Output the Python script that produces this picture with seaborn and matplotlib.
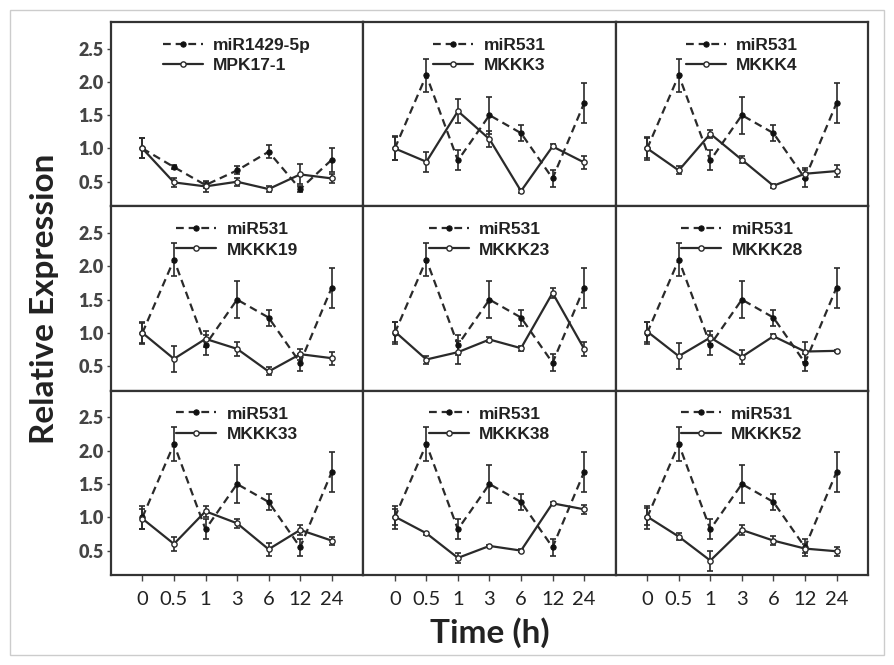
import numpy as np
import pandas as pd
import seaborn as sns
import matplotlib.pyplot as plt
from matplotlib.patches import Rectangle

# ---------------- data ----------------
times = ["0", "0.5", "1", "3", "6", "12", "24"]

mir1429_label = "miR1429-5p"
mir1429 = [1.00, 0.72, 0.45, 0.67, 0.95, 0.39, 0.83]
mir1429_err = [0.15, 0.03, 0.05, 0.06, 0.10, 0.05, 0.18]

mir531_label = "miR531"
mir531 = [1.00, 2.10, 0.82, 1.50, 1.23, 0.55, 1.68]
mir531_err = [0.17, 0.25, 0.15, 0.28, 0.12, 0.13, 0.30]

target_names = ["MPK17-1", "MKKK3", "MKKK4", "MKKK19", "MKKK23",
                "MKKK28", "MKKK33", "MKKK38", "MKKK52"]

mpk17_1 = [1.00, 0.49, 0.43, 0.50, 0.39, 0.61, 0.55]
mpk17_1_err = [0.15, 0.07, 0.08, 0.06, 0.05, 0.15, 0.07]
mkkk3 = [1.00, 0.80, 1.56, 1.14, 0.36, 1.03, 0.79]
mkkk3_err = [0.18, 0.15, 0.18, 0.12, 0.03, 0.03, 0.10]
mkkk4 = [1.00, 0.67, 1.22, 0.83, 0.44, 0.62, 0.66]
mkkk4_err = [0.15, 0.06, 0.06, 0.05, 0.03, 0.08, 0.09]
mkkk19 = [1.00, 0.61, 0.91, 0.76, 0.42, 0.68, 0.62]
mkkk19_err = [0.15, 0.20, 0.12, 0.10, 0.06, 0.08, 0.10]
mkkk23 = [1.02, 0.60, 0.71, 0.90, 0.77, 1.60, 0.76]
mkkk23_err = [0.15, 0.06, 0.17, 0.04, 0.04, 0.07, 0.10]
mkkk28 = [1.02, 0.65, 0.93, 0.64, 0.95, 0.72, 0.73]
mkkk28_err = [0.15, 0.20, 0.10, 0.10, 0.03, 0.15, 0.02]
mkkk33 = [0.98, 0.60, 1.09, 0.91, 0.52, 0.81, 0.65]
mkkk33_err = [0.15, 0.10, 0.08, 0.07, 0.10, 0.08, 0.06]
mkkk38 = [1.01, 0.76, 0.39, 0.57, 0.50, 1.21, 1.12]
mkkk38_err = [0.12, 0.02, 0.07, 0.02, 0.02, 0.02, 0.07]
mkkk52 = [1.01, 0.71, 0.35, 0.81, 0.65, 0.53, 0.49]
mkkk52_err = [0.13, 0.05, 0.15, 0.08, 0.07, 0.07, 0.07]

target_values = [mpk17_1, mkkk3, mkkk4, mkkk19, mkkk23, mkkk28, mkkk33, mkkk38, mkkk52]
target_errors = [mpk17_1_err, mkkk3_err, mkkk4_err, mkkk19_err, mkkk23_err,
                 mkkk28_err, mkkk33_err, mkkk38_err, mkkk52_err]

y_ticks = [0.5, 1.0, 1.5, 2.0, 2.5]
y_ticklabels = ["0.5", "1.0", "1.5", "2.0", "2.5"]

# ---------------- style ----------------
sns.set_style("white")
plt.rcParams["font.family"] = ["Liberation Sans", "DejaVu Sans"]

LINE = "#2a2a2a"
fig, axes = plt.subplots(3, 3, figsize=(8.94, 6.65), dpi=100, sharex=True, sharey=True)
fig.subplots_adjust(left=0.124, right=0.971, top=0.967, bottom=0.135, wspace=0, hspace=0)

pos = np.arange(len(times))

for i, ax in enumerate(axes.flat):
    if i == 0:
        mlabel, mvals, merr = mir1429_label, mir1429, mir1429_err
    else:
        mlabel, mvals, merr = mir531_label, mir531, mir531_err
    tvals, terr = target_values[i], target_errors[i]

    df_m = pd.DataFrame({"pos": pos, "value": mvals})
    df_t = pd.DataFrame({"pos": pos, "value": tvals})

    ax.errorbar(pos, mvals, yerr=merr, fmt="none", ecolor=LINE,
                elinewidth=1.2, capsize=2.5, capthick=1.2, zorder=2)
    ax.errorbar(pos, tvals, yerr=terr, fmt="none", ecolor=LINE,
                elinewidth=1.2, capsize=2.5, capthick=1.2, zorder=2)

    sns.lineplot(data=df_m, x="pos", y="value", ax=ax, color=LINE,
                 linestyle=(0, (3.5, 2.2)), linewidth=1.6, marker="o",
                 markersize=3.8, markerfacecolor="#111111", markeredgecolor="#111111",
                 label=mlabel, zorder=3)
    sns.lineplot(data=df_t, x="pos", y="value", ax=ax, color=LINE,
                 linestyle="-", linewidth=1.6, marker="o",
                 markersize=3.8, markerfacecolor="white", markeredgecolor=LINE,
                 markeredgewidth=1.0, label=target_names[i], zorder=4)

    leg = ax.legend(loc="upper center", bbox_to_anchor=(0.5, 1.0), frameon=False,
                    handlelength=2.3, handletextpad=0.6, labelspacing=0.3,
                    borderaxespad=0.6, borderpad=0.3,
                    prop={"family": "Liberation Sans", "weight": "bold", "size": 12.5})
    for t in leg.get_texts():
        t.set_color("#222222")

    ax.set_xlim(-1.0, 7.0)
    ax.set_ylim(0.13, 2.90)
    ax.set_xlabel("")
    ax.set_ylabel("")
    ax.set_xticks(pos)
    ax.set_yticks(y_ticks)
    for sp in ax.spines.values():
        sp.set_visible(True)
        sp.set_color("#333333")
        sp.set_linewidth(1.6)

    row, col = divmod(i, 3)
    if col == 0:
        ax.set_yticklabels(y_ticklabels)
        ax.tick_params(axis="y", left=True, length=3, width=1, color="#444444",
                       labelsize=13, labelcolor="#444444", pad=2)
        for lab in ax.get_yticklabels():
            lab.set_family(["Lato", "DejaVu Sans"])
            lab.set_fontweight("heavy")
    else:
        ax.tick_params(axis="y", left=False, labelleft=False)
    if row == 2:
        ax.set_xticklabels(times)
        ax.tick_params(axis="x", bottom=True, length=4, width=1, color="#444444",
                       labelsize=14.5, labelcolor="#222222", pad=7)
        for lab in ax.get_xticklabels():
            lab.set_family(["Lato", "DejaVu Sans"])
    else:
        ax.tick_params(axis="x", bottom=False, labelbottom=False)

fig.text(0.050, 0.551, "Relative Expression", rotation=90, ha="center", va="center",
         fontsize=24, fontweight="bold", family=["Lato", "DejaVu Sans"], color="#222222")
fig.text(0.548, 0.048, "Time (h)", ha="center", va="center",
         fontsize=24, fontweight="bold", family=["Lato", "DejaVu Sans"], color="#222222")

fig.add_artist(Rectangle((10 / 894, 10 / 665), 874 / 894, 645 / 665,
                         transform=fig.transFigure, fill=False,
                         edgecolor="#cccccc", linewidth=1.0))

fig.savefig("out.png", dpi=100)
